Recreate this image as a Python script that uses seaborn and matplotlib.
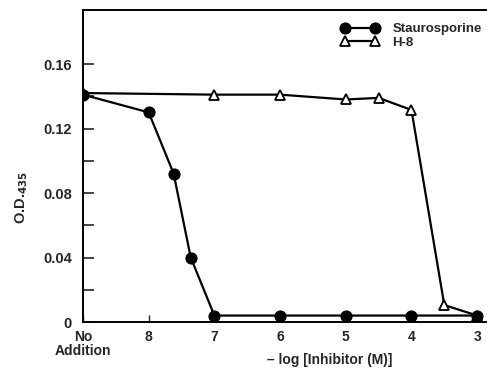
import matplotlib
matplotlib.use("Agg")
import matplotlib.pyplot as plt
import seaborn as sns
import pandas as pd

# Data (x = -log[Inhibitor (M)], 9 = "No Addition")
stauro_x = [9, 8, 7.62, 7.36, 7, 6, 5, 4, 3]
stauro_y = [0.141, 0.130, 0.092, 0.040, 0.004, 0.004, 0.004, 0.004, 0.004]
h8_x = [9, 7, 6, 5, 4.5, 4, 3.5, 3]
h8_y = [0.142, 0.141, 0.141, 0.138, 0.139, 0.1315, 0.0105, 0.004]
xtick_vals = [9, 8, 7, 6, 5, 4, 3]
xtick_labels = ["No\nAddition", "8", "7", "6", "5", "4", "3"]
ytick_vals = [0, 0.04, 0.08, 0.12, 0.16]
ytick_labels = ["0", "0.04", "0.08", "0.12", "0.16"]

sns.set_style("white")
plt.rcParams['font.family'] = ['Liberation Sans', 'DejaVu Sans']

fig = plt.figure(figsize=(4.87, 3.71), dpi=100)
ax = fig.add_axes([83/487, 49/371, 404/487, 312/371])

df_s = pd.DataFrame({"x": stauro_x, "y": stauro_y})
df_h = pd.DataFrame({"x": h8_x, "y": h8_y})

sns.lineplot(data=df_s, x="x", y="y", ax=ax, color="black", marker="o",
             markersize=8, markeredgecolor="black", markerfacecolor="black",
             linewidth=1.6, sort=False, label="Staurosporine", zorder=5)
sns.lineplot(data=df_h, x="x", y="y", ax=ax, color="black", marker="^",
             markersize=7.5, markeredgecolor="black", markerfacecolor="white",
             markeredgewidth=1.3, linewidth=1.6, sort=False, label="H-8", zorder=4)

ax.set_xlim(9, 2.85)
ax.set_ylim(0, 0.1935)
ax.set_xticks(xtick_vals)
ax.set_xticklabels(xtick_labels, fontsize=10, fontweight="bold", linespacing=0.95)
ax.set_yticks(ytick_vals)
ax.set_yticklabels(ytick_labels, fontsize=10.5, fontweight="bold")
ax.set_yticks([0.02, 0.06, 0.10, 0.14], minor=True)
ax.tick_params(axis="y", which="both", direction="in", length=8, width=1.2, left=True, pad=8)
ax.tick_params(axis="x", which="both", direction="in", length=5, width=1.0, bottom=True, pad=6)

for s in ["left", "bottom", "top"]:
    ax.spines[s].set_color("black")
    ax.spines[s].set_linewidth(1.4)
ax.spines["right"].set_visible(False)

ax.set_xlabel("– log [Inhibitor (M)]", fontsize=10, fontweight="bold")
ax.xaxis.set_label_coords(0.611, -0.122)
ax.xaxis.label.set_verticalalignment("center")
ax.set_ylabel("O.D.$_{\\mathbf{435}}$", fontsize=10.5, fontweight="bold")
ax.yaxis.set_label_coords(-0.13, 0.40)

leg = ax.legend(loc="upper right", frameon=False, fontsize=9.5, handlelength=2.9,
                handletextpad=1.0, labelspacing=0.1, borderaxespad=0.0,
                numpoints=2, bbox_to_anchor=(1.0, 0.975))
for t in leg.get_texts():
    t.set_fontweight("bold")

fig.savefig("out.png", dpi=100)
